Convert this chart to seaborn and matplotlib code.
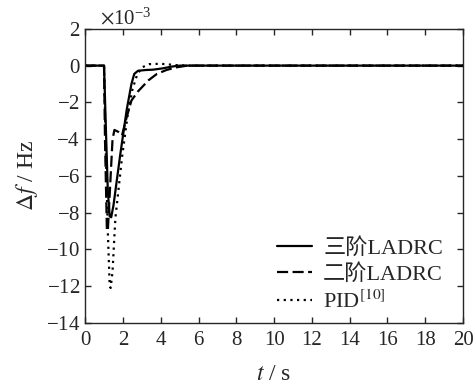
import numpy as np
import pandas as pd
import matplotlib
matplotlib.use("Agg")
import matplotlib.pyplot as plt
import seaborn as sns

# values (delta f in 1e-3 Hz)
t_ladrc3 = [0, 1.0, 1.1, 1.2, 1.3, 1.38, 1.5, 1.85, 2.2, 2.45, 2.6, 2.8, 3.2, 3.6, 4.1, 4.6, 5.0, 20]
f_ladrc3 = [0, 0, -3.5, -6.8, -8.2, -8.25, -7.6, -4.9, -2.4, -1.0, -0.45, -0.28, -0.24, -0.22, -0.15, -0.05, 0, 0]

t_ladrc2 = [0, 1.0, 1.05, 1.15, 1.2, 1.3, 1.45, 1.55, 1.75, 1.95, 2.2, 2.45, 2.8, 3.35, 3.8, 4.3, 4.8, 5.4, 20]
f_ladrc2 = [0, 0, -4.0, -8.9, -9.0, -7.0, -4.0, -3.5, -3.6, -3.8, -2.8, -1.9, -1.4, -0.8, -0.45, -0.24, -0.1, 0, 0]

t_pid = [0, 1.0, 1.1, 1.2, 1.3, 1.35, 1.45, 1.6, 1.95, 2.25, 2.5, 2.75, 3.0, 3.4, 4.0, 4.8, 5.5, 20]
f_pid = [0, 0, -5.0, -9.0, -12.0, -12.1, -11.2, -8.3, -5.0, -2.7, -1.3, -0.5, -0.1, 0.08, 0.1, 0.03, 0, 0]

labels = ["三阶LADRC", "二阶LADRC", "PID$^{[10]}$"]

frames = []
for lab, t, f in zip(labels, [t_ladrc3, t_ladrc2, t_pid], [f_ladrc3, f_ladrc2, f_pid]):
    frames.append(pd.DataFrame({"t": t, "df": np.array(f) * 1e-3, "ctrl": lab}))
df = pd.concat(frames, ignore_index=True)

sns.set_style("ticks")
plt.rcParams["font.family"] = ["Liberation Serif", "Noto Sans CJK SC"]
plt.rcParams["mathtext.fontset"] = "stix"
plt.rcParams["xtick.direction"] = "in"
plt.rcParams["ytick.direction"] = "in"

fig = plt.figure(figsize=(4.73, 3.9), dpi=100)
ax = fig.add_axes([0.180, 0.172, 0.799, 0.754])

sns.lineplot(data=df, x="t", y="df", hue="ctrl", style="ctrl",
             palette=["black"] * 3,
             dashes={labels[0]: "", labels[1]: (5, 2), labels[2]: (1, 2)},
             estimator=None, sort=False, linewidth=1.6, ax=ax)

ax.set_xlim(0, 20)
ax.set_ylim(-14e-3, 2e-3)
ax.set_xticks(np.arange(0, 21, 2))
ax.set_yticks(np.arange(-14, 3, 2) * 1e-3)
ax.ticklabel_format(axis="y", style="sci", scilimits=(-3, -3), useMathText=True)
ax.yaxis.get_offset_text().set_fontsize(15)
ax.yaxis.get_offset_text().set_x(0.04)
ax.tick_params(labelsize=15, top=True, right=True, length=4, width=1)
ax.tick_params(axis="x", pad=6)
for s in ax.spines.values():
    s.set_linewidth(1)

ax.set_xlabel("$t$ / s", fontsize=17, labelpad=10)
ax.set_ylabel("$\\Delta f$ / Hz", fontsize=17, labelpad=4)

leg = ax.legend(loc="lower right", bbox_to_anchor=(1.0, -0.035), frameon=False,
                fontsize=16, handlelength=1.6, handletextpad=0.5,
                labelspacing=0.25, title=None)

fig.savefig("out.png", dpi=100)
